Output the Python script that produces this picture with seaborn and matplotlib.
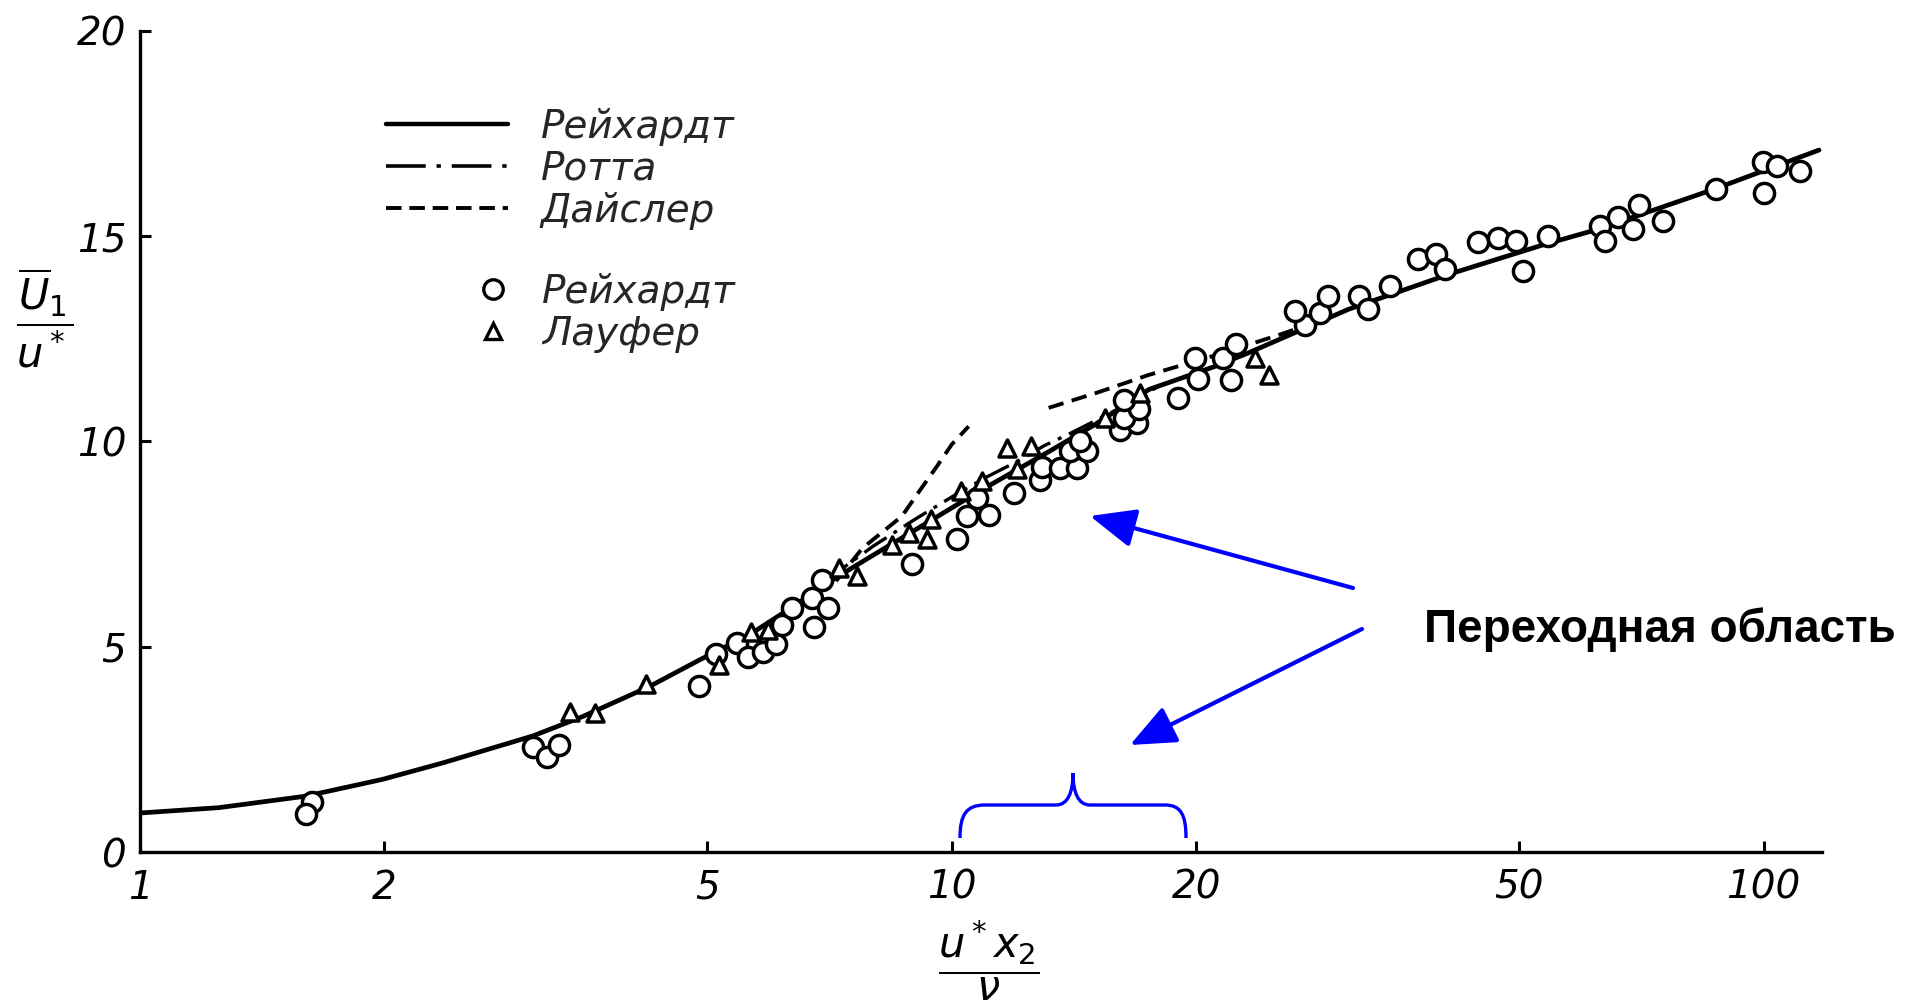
import matplotlib
matplotlib.use("Agg")
import matplotlib.pyplot as plt
import seaborn as sns
import numpy as np
import pandas as pd
from matplotlib.lines import Line2D
from matplotlib.path import Path
from matplotlib.patches import PathPatch
from matplotlib.ticker import FixedLocator, NullLocator

# ---------------- data ----------------
reich_x = [1.0, 1.25, 1.60, 1.99, 2.36, 3.05, 3.51, 4.24, 4.89, 5.63, 6.48, 7.13, 7.83,
           9.02, 10.9, 13.16, 15.0, 17.5, 21.1, 23.2, 30.8, 40.9, 53.7, 62.5, 87.0, 117.0]
reich_y = [0.95, 1.08, 1.36, 1.77, 2.17, 2.83, 3.30, 4.03, 4.68, 5.29, 6.07, 6.63, 7.12,
           7.85, 8.83, 9.75, 10.41, 11.27, 11.83, 12.16, 13.22, 14.07, 14.80, 15.17, 16.15, 17.10]

rotta_x = [7.0, 8.0, 9.0, 10.0, 11.0, 12.0, 13.0, 14.0, 15.0, 16.5, 18.0]
rotta_y = [6.62, 7.45, 8.10, 8.65, 9.12, 9.50, 9.90, 10.20, 10.50, 10.92, 11.35]

deis_in_x = [7.2, 7.76, 8.68, 9.15, 9.59, 10.0, 10.49]
deis_in_y = [6.60, 7.40, 8.18, 8.83, 9.40, 9.93, 10.37]

deis_out_x = [13.16, 15.1, 17.47, 21.3, 25.5, 28.0]
deis_out_y = [10.82, 11.19, 11.62, 12.12, 12.62, 12.90]

circ_x = [1.63, 1.60, 3.05, 3.17, 3.28, 4.88, 5.13, 5.43, 5.61, 5.85, 6.07, 6.17, 6.35,
          6.76, 6.73, 7.03, 6.92, 8.92, 10.15, 10.44, 11.10, 10.74, 11.92, 12.85, 12.91,
          13.61, 14.27, 14.00, 14.68, 14.40, 16.1, 16.9, 16.3, 17.0, 16.3, 19.0, 19.95,
          20.1, 21.6, 22.4, 22.1, 27.2, 28.4, 26.5, 29.1, 31.7, 32.6, 34.7, 37.5, 39.5,
          40.5, 44.5, 47.1, 49.6, 50.5, 54.2, 62.8, 63.7, 66.1, 70.3, 69.0, 75.1, 87.4,
          99.7, 103.8, 110.9, 100.0]
circ_y = [1.23, 0.93, 2.57, 2.31, 2.61, 4.05, 4.83, 5.09, 4.76, 4.88, 5.07, 5.54, 5.94,
          5.48, 6.19, 5.94, 6.63, 7.02, 7.63, 8.18, 8.20, 8.62, 8.75, 9.07, 9.38,
          9.36, 9.36, 9.76, 9.76, 10.00, 10.29, 10.45, 10.58, 10.78, 11.02, 11.06, 12.04,
          11.53, 12.04, 12.37, 11.51, 12.85, 13.14, 13.18, 13.54, 13.54, 13.22, 13.79, 14.44, 14.56,
          14.20, 14.85, 14.96, 14.89, 14.15, 15.00, 15.25, 14.89, 15.48, 15.76, 15.17, 15.37, 16.15,
          16.80, 16.72, 16.60, 16.05]

tri_x = [3.39, 3.63, 4.20, 5.17, 5.65, 5.93, 7.27, 7.65, 8.45, 8.85, 9.33, 9.42, 10.26,
         10.90, 12.03, 11.70, 12.53, 15.45, 17.06, 23.6, 24.6]
tri_y = [3.40, 3.38, 4.09, 4.56, 5.37, 5.40, 6.92, 6.73, 7.49, 7.76, 7.63, 8.10, 8.79,
         9.03, 9.32, 9.84, 9.89, 10.58, 11.19, 12.04, 11.63]

x_ticks = [1, 2, 5, 10, 20, 50, 100]
x_ticklabels = ["1", "2", "5", "10", "20", "50", "100"]
y_ticks = [0, 5, 10, 15, 20]
y_ticklabels = ["0", "5", "10", "15", "20"]

line_labels = ["Рейхардт", "Ротта", "Дайслер"]
point_labels = ["Рейхардт", "Лауфер"]
note_text = "Переходная область"

# ---------------- figure ----------------
sns.set_theme(style="white")
plt.rcParams["font.family"] = ["DejaVu Sans"]
plt.rcParams["mathtext.fontset"] = "dejavusans"

W, H = 1917, 1000
fig = plt.figure(figsize=(W / 100, H / 100), dpi=100)
L, R, T, B = 140, 1822, 31, 852
ax = fig.add_axes([L / W, 1 - B / H, (R - L) / W, (B - T) / H])
ax.set_facecolor("white")

df_r = pd.DataFrame({"x": reich_x, "y": reich_y})
df_ro = pd.DataFrame({"x": rotta_x, "y": rotta_y})
df_d1 = pd.DataFrame({"x": deis_in_x, "y": deis_in_y})
df_d2 = pd.DataFrame({"x": deis_out_x, "y": deis_out_y})

sns.lineplot(data=df_r, x="x", y="y", ax=ax, color="black", lw=3.4, sort=False,
             estimator=None, zorder=3)
sns.lineplot(data=df_ro, x="x", y="y", ax=ax, color="black", lw=2.4, sort=False,
             estimator=None, zorder=3)
sns.lineplot(data=df_d1, x="x", y="y", ax=ax, color="black", lw=2.8, sort=False,
             estimator=None, zorder=3)
sns.lineplot(data=df_d2, x="x", y="y", ax=ax, color="black", lw=2.8, sort=False,
             estimator=None, zorder=3)
lines = ax.get_lines()
lines[0].set_solid_capstyle("round")
lines[0].set_solid_joinstyle("round")
lines[1].set_dashes([8, 2.5, 1.2, 2.5])
lines[2].set_dashes([4, 2.2])
lines[3].set_dashes([4, 2.2])

sns.scatterplot(x=circ_x, y=circ_y, ax=ax, marker="o", s=210, facecolor="white",
                edgecolor="black", linewidth=2.5, zorder=4, legend=False)
sns.scatterplot(x=tri_x, y=tri_y, ax=ax, marker="^", s=150, facecolor="white",
                edgecolor="black", linewidth=2.5, zorder=4, legend=False)

ax.set_xscale("log")
ax.set_xlim(1, 118)
ax.set_ylim(0, 20)
ax.xaxis.set_major_locator(FixedLocator(x_ticks))
ax.xaxis.set_minor_locator(NullLocator())
ax.set_xticklabels(x_ticklabels)
ax.set_yticks(y_ticks)
ax.set_yticklabels(y_ticklabels)
ax.set_xlabel("")
ax.set_ylabel("")
for s in ["top", "right"]:
    ax.spines[s].set_visible(False)
for s in ["left", "bottom"]:
    ax.spines[s].set_color("black")
    ax.spines[s].set_linewidth(2.4)
ax.tick_params(axis="both", direction="in", length=8, width=2.2, color="black",
               labelsize=28, labelcolor="black", left=True, bottom=True)
ax.tick_params(axis="x", pad=12)
ax.tick_params(axis="y", pad=10)
for lbl in ax.get_xticklabels() + ax.get_yticklabels():
    lbl.set_fontstyle("italic")

# axis titles (fractions)
fig.text(45 / W, 1 - 318 / H, r"$\dfrac{\overline{U}_1}{u^*}$", fontsize=30,
         ha="center", va="center", color="black")
fig.text(989 / W, 1 - 960 / H, r"$\dfrac{u^* x_2}{\nu}$", fontsize=30,
         ha="center", va="center", color="black")

# legends
h_lines = [Line2D([], [], color="black", lw=3.2),
           Line2D([], [], color="black", lw=2.6, dashes=[11, 3, 1.2, 3]),
           Line2D([], [], color="black", lw=2.8, dashes=[4, 2])]
leg1 = fig.legend(h_lines, line_labels, loc="upper left",
                  bbox_to_anchor=(386 / W, 1 - 108 / H), frameon=False,
                  handlelength=3.13, handletextpad=0.85, labelspacing=0.1,
                  borderpad=0, borderaxespad=0,
                  prop={"size": 28, "style": "italic"})
h_pts = [Line2D([], [], ls="none", marker="o", ms=14, mfc="white", mec="black", mew=2.4),
         Line2D([], [], ls="none", marker="^", ms=12, mfc="white", mec="black", mew=2.4)]
leg2 = fig.legend(h_pts, point_labels, loc="upper left",
                  bbox_to_anchor=(474 / W, 1 - 273 / H), frameon=False,
                  handlelength=1.0, handletextpad=0.75, labelspacing=0.1,
                  borderpad=0, borderaxespad=0,
                  prop={"size": 28, "style": "italic"})

# blue annotation: arrows, brace, text
blue = "#0000FF"
def fp(x, y):
    return (x, H - y)
for tail, tip in [((1353, 588), (1090, 516)), ((1362, 629), (1130, 745))]:
    ax.annotate("", xy=fp(*tip), xytext=fp(*tail), xycoords="figure pixels",
                textcoords="figure pixels",
                arrowprops=dict(arrowstyle="-|>,head_length=1.4,head_width=0.6",
                                color=blue, lw=3.0, shrinkA=0, shrinkB=0,
                                mutation_scale=20))

bp = [(960, 838), (960, 815), (966, 805), (985, 805), (1056, 805),
      (1068, 805), (1073, 792), (1073, 773), (1073, 792), (1078, 805), (1090, 805),
      (1165, 805), (1181, 805), (1186, 815), (1186, 838)]
codes = [Path.MOVETO, Path.CURVE4, Path.CURVE4, Path.CURVE4, Path.LINETO,
         Path.CURVE4, Path.CURVE4, Path.CURVE4, Path.CURVE4, Path.CURVE4, Path.CURVE4,
         Path.LINETO, Path.CURVE4, Path.CURVE4, Path.CURVE4]
verts = [(x / W, 1 - y / H) for x, y in bp]
fig.add_artist(PathPatch(Path(verts, codes), transform=fig.transFigure,
                         facecolor="none", edgecolor=blue, lw=2.4))

fig.text(1424 / W, 1 - 630 / H, note_text, fontsize=33, fontweight="bold",
         family=["Liberation Sans", "DejaVu Sans"], ha="left", va="center",
         color="black")

fig.savefig("out.png", dpi=100, facecolor="white")
